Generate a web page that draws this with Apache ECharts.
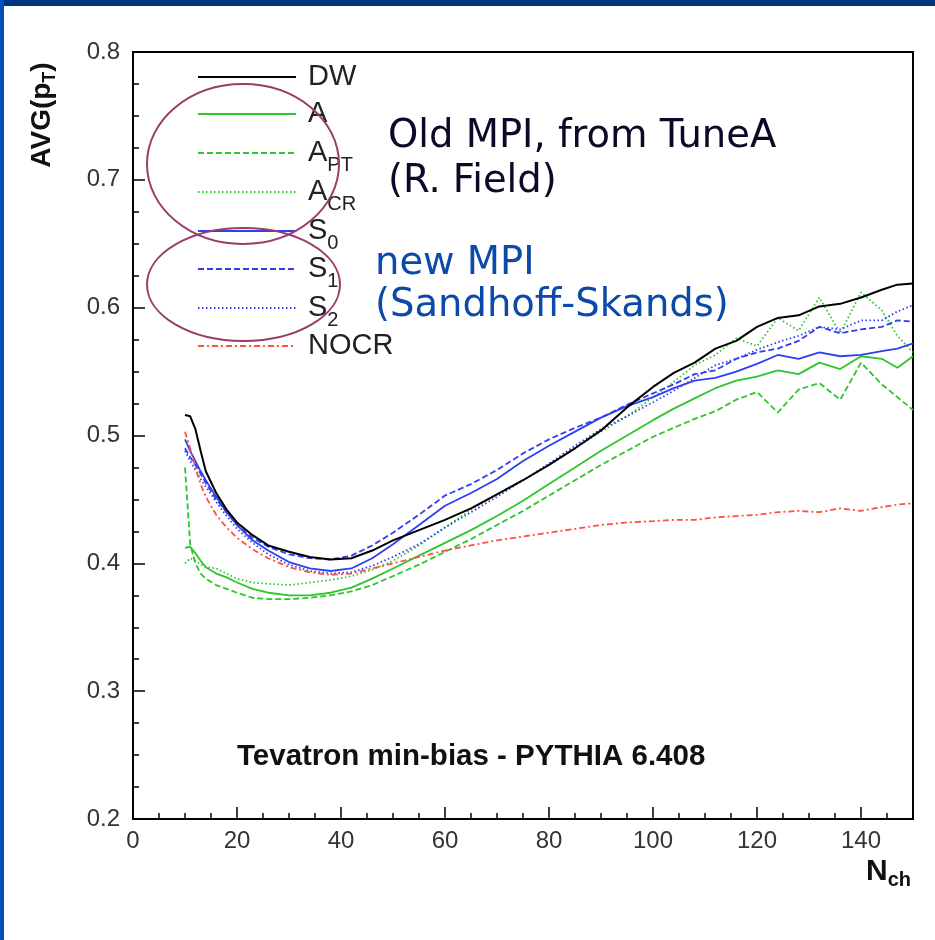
<!DOCTYPE html>
<html><head><meta charset="utf-8">
<script src="https://cdn.jsdelivr.net/npm/echarts@6/dist/echarts.min.js"></script>
<style>html,body{margin:0;padding:0;background:#fff}#c{width:935px;height:940px}</style>
</head><body><div id="c"></div>
<script>
// N_ch sample points
const N = [10,11,12,13,14,16,18,20,23,26,30,34,38,42,46,50,55,60,65,70,75,80,85,90,95,100,104,108,112,116,120,124,128,132,136,140,144,147,150];
const DW   = [0.516,0.515,0.505,0.488,0.472,0.455,0.442,0.432,0.422,0.414,0.409,0.405,0.403,0.404,0.410,0.418,0.426,0.434,0.443,0.454,0.465,0.477,0.490,0.504,0.522,0.538,0.549,0.557,0.568,0.574,0.585,0.592,0.594,0.601,0.603,0.608,0.614,0.618,0.619];
const A    = [0.412,0.413,0.408,0.402,0.397,0.392,0.389,0.385,0.380,0.377,0.375,0.375,0.377,0.381,0.388,0.396,0.406,0.416,0.426,0.437,0.449,0.462,0.475,0.488,0.500,0.512,0.521,0.529,0.537,0.543,0.546,0.551,0.548,0.557,0.552,0.562,0.560,0.553,0.562];
const A_PT = [0.475,0.415,0.400,0.392,0.388,0.383,0.380,0.377,0.373,0.372,0.372,0.373,0.375,0.378,0.383,0.390,0.399,0.409,0.419,0.430,0.441,0.453,0.465,0.477,0.488,0.499,0.506,0.513,0.519,0.528,0.534,0.518,0.536,0.541,0.528,0.557,0.540,0.530,0.520];
const A_CR = [0.400,0.404,0.402,0.399,0.397,0.396,0.392,0.388,0.385,0.384,0.383,0.385,0.387,0.390,0.395,0.402,0.414,0.428,0.442,0.454,0.465,0.477,0.490,0.503,0.515,0.530,0.542,0.555,0.563,0.576,0.570,0.592,0.582,0.608,0.580,0.612,0.598,0.578,0.565];
const S0   = [0.497,0.488,0.480,0.472,0.465,0.452,0.440,0.430,0.418,0.410,0.401,0.396,0.394,0.396,0.404,0.415,0.430,0.445,0.455,0.466,0.480,0.492,0.503,0.514,0.523,0.530,0.537,0.543,0.545,0.550,0.556,0.563,0.560,0.565,0.562,0.563,0.566,0.568,0.572];
const S1   = [0.490,0.483,0.477,0.470,0.463,0.450,0.440,0.430,0.420,0.413,0.407,0.404,0.403,0.406,0.414,0.424,0.438,0.453,0.462,0.473,0.486,0.497,0.506,0.514,0.524,0.533,0.540,0.548,0.551,0.560,0.565,0.568,0.574,0.585,0.580,0.583,0.585,0.590,0.589];
const S2   = [0.488,0.480,0.473,0.466,0.460,0.448,0.437,0.427,0.416,0.407,0.399,0.394,0.392,0.393,0.398,0.405,0.415,0.428,0.440,0.452,0.465,0.478,0.492,0.505,0.515,0.526,0.535,0.545,0.555,0.560,0.567,0.573,0.578,0.585,0.583,0.590,0.590,0.597,0.602];
const NOCR = [0.503,0.490,0.475,0.462,0.452,0.438,0.428,0.420,0.411,0.404,0.397,0.393,0.391,0.392,0.396,0.400,0.405,0.410,0.414,0.418,0.421,0.424,0.427,0.430,0.432,0.433,0.434,0.434,0.436,0.437,0.438,0.440,0.441,0.440,0.443,0.441,0.444,0.446,0.447];

const seriesNames = ['DW','A','A_PT','A_CR','S0','S1','S2','NOCR'];
const seriesData  = [DW, A, A_PT, A_CR, S0, S1, S2, NOCR];
const legendLabels = {
  DW: '{p| }{m|DW}', A: '{p| }{m|A}', A_PT: '{p| }{m|A}{s|PT}', A_CR: '{p| }{m|A}{s|CR}',
  S0: '{p| }{m|S}{s|0}', S1: '{p| }{m|S}{s|1}', S2: '{p| }{m|S}{s|2}', NOCR: '{p| }{m|NOCR}'
};
const yTicks = [0.2,0.3,0.4,0.5,0.6,0.7,0.8];
const xTicks = [0,20,40,60,80,100,120,140];

const GREEN = '#2ec52e', BLUE = '#2f3ff0', RED = '#ff5040';
const styles = {
  DW:   {color:'#000', type:'solid', width:2},
  A:    {color:GREEN, type:'solid', width:1.8},
  A_PT: {color:GREEN, type:[6,3], width:1.8},
  A_CR: {color:GREEN, type:[1.5,2.5], width:1.8},
  S0:   {color:BLUE, type:'solid', width:1.8},
  S1:   {color:BLUE, type:[6,3], width:1.8},
  S2:   {color:BLUE, type:[1.5,2.5], width:1.8},
  NOCR: {color:RED, type:[6,3,2,3], width:1.8}
};
const rowY = [76,113,152,191,230,268,307,345];

const FONT = 'Liberation Sans, Arial, sans-serif';
const chart = echarts.init(document.getElementById('c'));
const series = seriesNames.map((nm,i)=>({
  name: nm, type:'line', showSymbol:false, symbol:'none', animation:false,
  data: N.map((n,j)=>[n, seriesData[i][j]]),
  lineStyle: {color: styles[nm].color, type: styles[nm].type, width: styles[nm].width},
  itemStyle: {color: styles[nm].color},
  z: nm==='DW'?5:3
}));
const legends = seriesNames.map((nm,i)=>({
  data:[nm], orient:'vertical', left:197, top: rowY[i]-13.5, padding:0,
  itemWidth:98, itemHeight:12, selectedMode:false,
  itemStyle:{opacity:0},
  formatter: ()=>legendLabels[nm],
  textStyle:{ color:'#222', fontFamily:FONT,
    rich:{ p:{width:7, fontSize:10}, m:{fontSize:29, height:48, fontFamily:FONT, color:'#222'},
           s:{fontSize:20, padding:[24,0,0,0], fontFamily:FONT, color:'#222'} } }
}));

chart.setOption({
  animation:false,
  backgroundColor:'#fff',
  textStyle:{fontFamily:FONT},
  grid:{left:133, right:22, top:52, bottom:121, show:true, borderColor:'#000', borderWidth:2, backgroundColor:'transparent'},
  legend: legends,
  xAxis:[{
    type:'value', min:0, max:150, interval:20, position:'bottom',
    axisLine:{show:true, lineStyle:{color:'#000', width:2}},
    axisTick:{show:true, inside:true, length:12, lineStyle:{color:'#000', width:1.5}},
    splitLine:{show:false},
    axisLabel:{fontSize:24, color:'#333', margin:10, showMaxLabel:false, fontFamily:FONT,
      formatter: v => xTicks.includes(v) ? String(v) : ''}
  },{
    type:'value', min:0, max:150, interval:5, position:'bottom',
    axisLine:{show:false}, axisLabel:{show:false}, splitLine:{show:false},
    axisTick:{show:true, inside:true, length:6, lineStyle:{color:'#000', width:1.5}}
  }],
  yAxis:{
    type:'value', min:0.2, max:0.8, interval:0.1,
    axisLine:{show:true, lineStyle:{color:'#000', width:2}},
    axisTick:{show:true, inside:true, length:12, lineStyle:{color:'#000', width:1.5}},
    minorTick:{show:true, splitNumber:4, length:6, lineStyle:{color:'#000', width:1.5}},
    splitLine:{show:false},
    axisLabel:{fontSize:24, color:'#333', margin:13, fontFamily:FONT,
      formatter: v => { const t = yTicks.find(k=>Math.abs(k-v)<1e-6); return t===undefined ? '' : t.toFixed(1); }}
  },
  series: series,
  graphic:[
    {type:'rect', shape:{x:0,y:0,width:935,height:6}, style:{fill:'#00357f'}, silent:true},
    {type:'rect', shape:{x:0,y:0,width:4,height:940}, style:{fill:'#0050b8'}, silent:true},
    {type:'ellipse', shape:{cx:243, cy:164, rx:96, ry:80}, style:{fill:'none', stroke:'#9a3c6c', lineWidth:2}, silent:true, z:10},
    {type:'ellipse', shape:{cx:243.5, cy:284.5, rx:96.5, ry:56.5}, style:{fill:'none', stroke:'#9a3c6c', lineWidth:2}, silent:true, z:10},
    {type:'text', x:388, y:137, style:{text:'Old MPI, from TuneA', fontSize:38.5, fontFamily:'DejaVu Sans', fill:'#0a0a28', verticalAlign:'middle'}, z:10},
    {type:'text', x:388, y:182, style:{text:'(R. Field)', fontSize:38.5, fontFamily:'DejaVu Sans', fill:'#0a0a28', verticalAlign:'middle'}, z:10},
    {type:'text', x:375, y:264, style:{text:'new MPI', fontSize:38.5, fontFamily:'DejaVu Sans', fill:'#0a4aa8', verticalAlign:'middle'}, z:10},
    {type:'text', x:375, y:306, style:{text:'(Sandhoff-Skands)', fontSize:38.5, fontFamily:'DejaVu Sans', fill:'#0a4aa8', verticalAlign:'middle'}, z:10},
    {type:'text', x:237, y:757, style:{text:'Tevatron min-bias - PYTHIA 6.408', fontSize:29.5, fontWeight:'bold', fontFamily:FONT, fill:'#111', verticalAlign:'middle'}, z:10},
    {type:'text', x:42, y:115, rotation:Math.PI/2, style:{text:'AVG(p{s|T})', fontSize:28, fontWeight:'bold', fontFamily:FONT, fill:'#111', align:'center', verticalAlign:'middle',
      rich:{s:{fontSize:18, fontWeight:'bold', fontFamily:FONT, fill:'#111', padding:[16,0,0,0]}}}, z:10},
    {type:'text', x:866, y:872, style:{text:'N{s|ch}', fontSize:30, fontWeight:'bold', fontFamily:FONT, fill:'#111', verticalAlign:'middle',
      rich:{s:{fontSize:20, fontWeight:'bold', fontFamily:FONT, fill:'#111', padding:[16,0,0,0]}}}, z:10}
  ]
});
</script></body></html>
